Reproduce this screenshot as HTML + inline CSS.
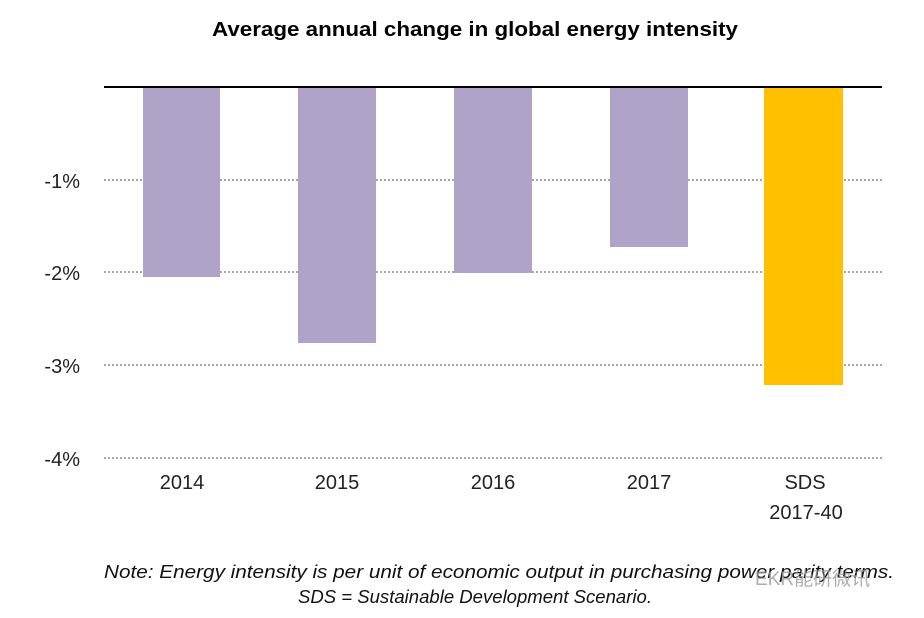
<!DOCTYPE html>
<html><head><meta charset="utf-8"><style>
html,body{margin:0;padding:0;background:#fff;}
svg{display:block;font-family:"Liberation Sans","Noto Sans CJK SC",sans-serif;}
</style></head><body>
<svg width="924" height="618" viewBox="0 0 924 618" xmlns="http://www.w3.org/2000/svg">
<rect width="924" height="618" fill="#fff"/>
<text x="475" y="36" text-anchor="middle" font-size="20" font-weight="bold" fill="#000" textLength="526" lengthAdjust="spacingAndGlyphs">Average annual change in global energy intensity</text>
<g stroke="#888" stroke-width="1.5" stroke-dasharray="2,2">
<line x1="104" y1="180" x2="882" y2="180"/>
<line x1="104" y1="272" x2="882" y2="272"/>
<line x1="104" y1="365" x2="882" y2="365"/>
<line x1="104" y1="458" x2="882" y2="458"/>
</g>
<g fill="#B0A3C8">
<rect x="143" y="87" width="77" height="190"/>
<rect x="298" y="87" width="78" height="256"/>
<rect x="454" y="87" width="78" height="186"/>
<rect x="610" y="87" width="78" height="160"/>
</g>
<rect x="764" y="87" width="79" height="298" fill="#FFC000"/>
<line x1="104" y1="87" x2="882" y2="87" stroke="#000" stroke-width="2"/>
<g font-size="20" fill="#222" text-anchor="end">
<text x="80" y="188">-1%</text>
<text x="80" y="280">-2%</text>
<text x="80" y="373">-3%</text>
<text x="80" y="466">-4%</text>
</g>
<g font-size="20" fill="#222" text-anchor="middle">
<text x="182" y="489">2014</text>
<text x="337" y="489">2015</text>
<text x="493" y="489">2016</text>
<text x="649" y="489">2017</text>
<text x="805" y="489">SDS</text>
<text x="806" y="519">2017-40</text>
</g>
<g font-size="18" font-style="italic" fill="#111">
<text x="104" y="578" textLength="790" lengthAdjust="spacingAndGlyphs">Note: Energy intensity is per unit of economic output in purchasing power parity terms.</text>
<text x="475" y="603" text-anchor="middle" textLength="354" lengthAdjust="spacingAndGlyphs">SDS = Sustainable Development Scenario.</text>
</g>
<text x="755" y="585" font-size="19" fill="#999" opacity="0.8">EKR能研微讯</text>
</svg>
</body></html>
